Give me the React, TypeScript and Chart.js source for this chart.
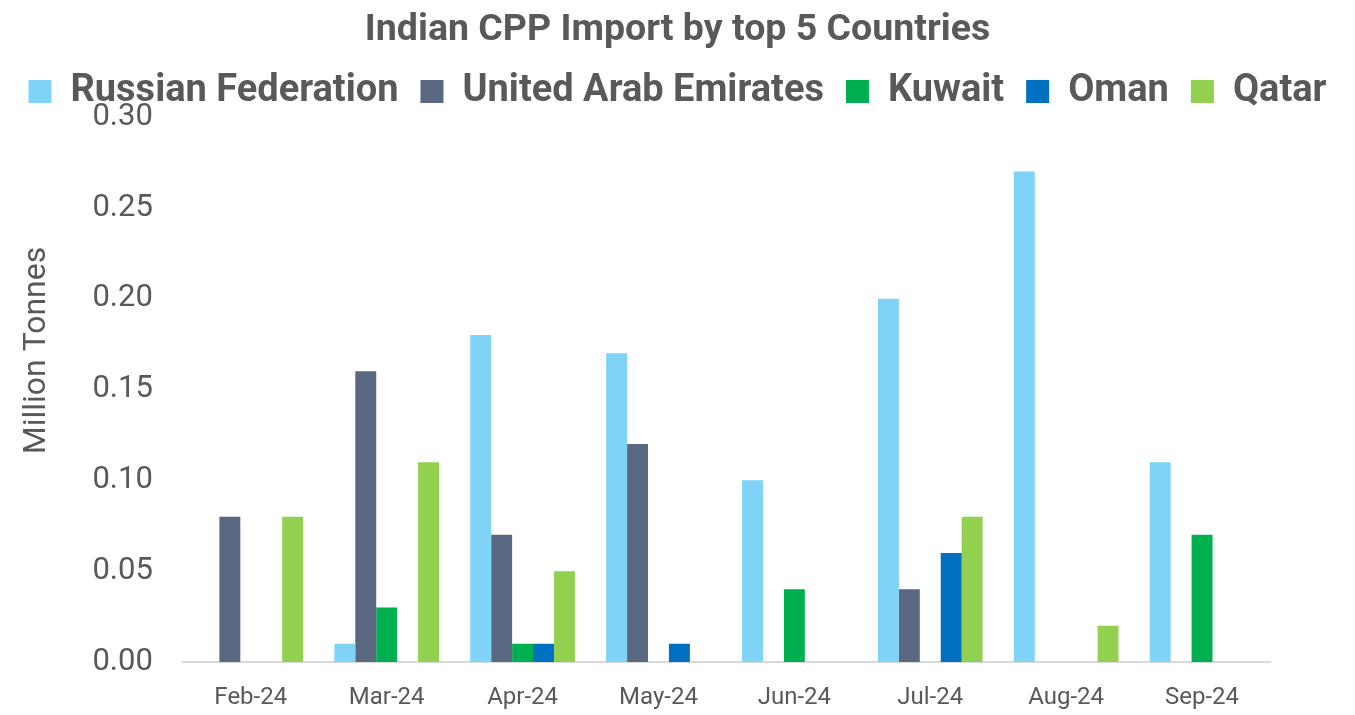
import React, { useEffect, useRef } from "react";
import { Chart, registerables } from "chart.js";

Chart.register(...registerables);

const months = ["Feb-24", "Mar-24", "Apr-24", "May-24", "Jun-24", "Jul-24", "Aug-24", "Sep-24"];
const russianFederation = [null, 0.01, 0.18, 0.17, 0.1, 0.2, 0.27, 0.11];
const unitedArabEmirates = [0.08, 0.16, 0.07, 0.12, null, 0.04, null, null];
const kuwait = [null, 0.03, 0.01, null, 0.04, null, null, 0.07];
const oman = [null, null, 0.01, 0.01, null, 0.06, null, null];
const qatar = [0.08, 0.11, 0.05, null, null, 0.08, 0.02, null];

const TEXT = "#595959";
const Y_TITLE = "Million Tonnes";

const legendShrink = {
  id: "legendShrink",
  beforeInit(chart: any) {
    const legend = chart.legend;
    if (!legend) return;
    const orig = legend.fit;
    legend.fit = function () {
      orig.call(this);
      this.height -= 3.5;
    };
  },
};

// Draws the y-axis title slightly above the axis centre, as in the reference
const yTitlePlugin = {
  id: "yTitlePlugin",
  afterDraw(chart: any) {
    const s = chart.scales.y;
    const area = chart.chartArea;
    const ctx = chart.ctx;
    ctx.save();
    ctx.translate(s.left + 18 + 19, (area.top + area.bottom) / 2 - 39);
    ctx.rotate(-Math.PI / 2);
    ctx.textAlign = "center";
    ctx.textBaseline = "middle";
    ctx.fillStyle = TEXT;
    ctx.font = "32px Roboto";
    ctx.fillText(Y_TITLE, 0, 0);
    ctx.restore();
  },
};

export default function App() {
  const ref = useRef<HTMLCanvasElement | null>(null);

  useEffect(() => {
    if (!ref.current) return;
    const mk = (label: string, data: (number | null)[], color: string) => ({
      label,
      data,
      backgroundColor: color,
      borderWidth: 0,
      categoryPercentage: 0.77,
      barPercentage: 1.0,
    });
    const chart = new Chart(ref.current, {
      type: "bar",
      data: {
        labels: months,
        datasets: [
          mk("Russian Federation", russianFederation, "#7FD3F7"),
          mk("United Arab Emirates", unitedArabEmirates, "#596780"),
          mk("Kuwait", kuwait, "#00B050"),
          mk("Oman", oman, "#0070C0"),
          mk("Qatar", qatar, "#92D050"),
        ],
      },
      plugins: [legendShrink, yTitlePlugin],
      options: {
        animation: false,
        responsive: true,
        maintainAspectRatio: false,
        layout: { padding: { left: 0, right: 0, top: 0, bottom: 0 } },
        plugins: {
          title: {
            display: true,
            text: "Indian CPP Import by top 5 Countries",
            color: TEXT,
            font: { family: "Roboto", size: 37.5, weight: "bold", lineHeight: 1.0 },
            padding: { top: 12, bottom: 1 },
          },
          legend: {
            display: true,
            position: "top",
            labels: {
              color: TEXT,
              font: { family: "Roboto", size: 38, weight: "bold" },
              boxWidth: 23,
              boxHeight: 23,
              padding: 22,
            },
          },
          tooltip: { enabled: false },
        },
        scales: {
          x: {
            grid: { display: false, drawTicks: false },
            border: { display: true, color: "#D9D9D9", width: 2 },
            ticks: {
              color: TEXT,
              font: { family: "Roboto", size: 24 },
              padding: 22,
            },
            afterFit: (s: any) => {
              s.height = 53;
            },
          },
          y: {
            min: 0,
            max: 0.3,
            grid: { display: false, drawTicks: false },
            border: { display: false },
            ticks: {
              stepSize: 0.05,
              color: TEXT,
              font: { family: "Roboto", size: 31 },
              padding: 30,
              callback: (v: any) => Number(v).toFixed(2),
            },
            title: {
              display: true,
              text: Y_TITLE,
              color: "rgba(0,0,0,0)",
              font: { family: "Roboto", size: 32 },
              padding: { top: 18, bottom: 6 },
            },
          },
          yRight: {
            position: "right",
            display: true,
            grid: { display: false, drawTicks: false },
            border: { display: false },
            ticks: { display: false },
            afterFit: (s: any) => {
              s.width = 85;
            },
          },
        },
      },
    });
    return () => chart.destroy();
  }, []);

  return (
    <div style={{ position: "fixed", left: 0, top: 0, width: 1355, height: 715, background: "#fff" }}>
      <canvas ref={ref} />
    </div>
  );
}
